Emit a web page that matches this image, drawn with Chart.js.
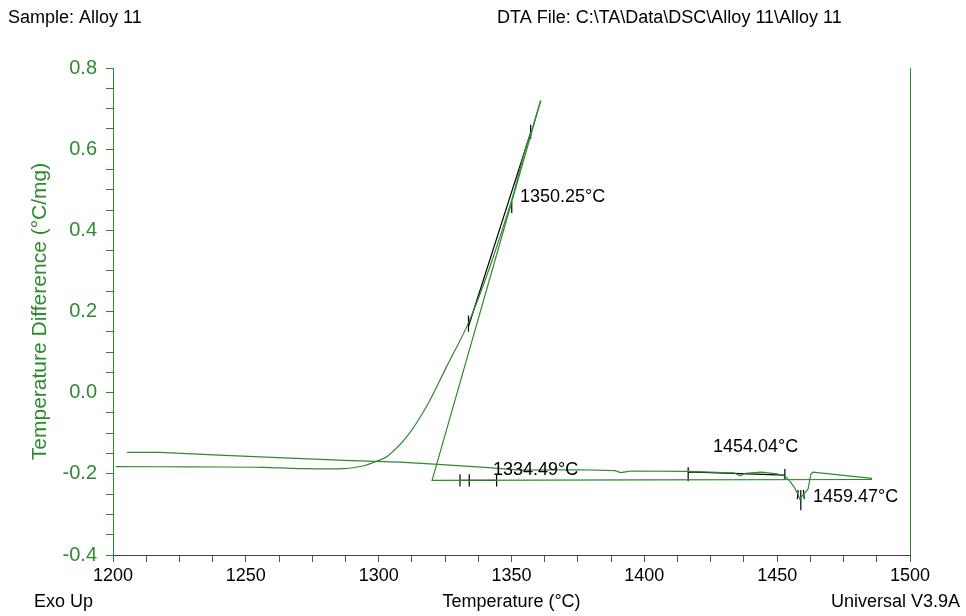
<!DOCTYPE html>
<html lang="en">
<head>
<meta charset="UTF-8">
<title>DTA - Alloy 11</title>
<script src="https://cdn.jsdelivr.net/npm/chart.js"></script>
<style>
  html, body { margin: 0; padding: 0; background: #fff; }
  #wrap { width: 966px; height: 616px; }
</style>
</head>
<body>
<div id="wrap"><canvas id="dta" width="966" height="616"></canvas></div>
<script>
// heating run (upper trace) - temperature in °C, signal in °C/mg
var heatT  = [1205.3, 1217.7, 1240, 1262, 1287, 1308, 1320.8, 1340, 1353.6, 1376, 1389, 1391, 1393, 1395,
              1416.5, 1430, 1434, 1436, 1438, 1444, 1450, 1453, 1455, 1456.3, 1457.8, 1458.5, 1460,
              1461.6, 1462.7, 1463.4, 1485.7];
var heatDT = [-0.147, -0.147, -0.154, -0.160, -0.167, -0.171, -0.176, -0.184, -0.191, -0.190, -0.192, -0.197, -0.195, -0.193,
              -0.194, -0.197, -0.198, -0.205, -0.199, -0.196, -0.200, -0.206, -0.220, -0.232, -0.250, -0.262, -0.250,
              -0.238, -0.201, -0.196, -0.211];

// cooling run: baseline back down and the recalescence jump
var coolT  = [1485.7, 1400, 1320.1, 1361.0];
var coolDT = [-0.214, -0.215, -0.216, 0.720];

// cooling run after the peak: decay back to the baseline
var decayT  = [1361.0, 1358, 1355, 1350.1, 1341.9, 1333.8, 1325.7, 1318.1, 1310.9,
               1303.4, 1298, 1294.5, 1287, 1270, 1256.5, 1230, 1201];
var decayDT = [0.720, 0.655, 0.595, 0.475, 0.311, 0.172, 0.066, -0.033, -0.106,
               -0.156, -0.172, -0.180, -0.187, -0.187, -0.184, -0.183, -0.182];

// analysis marks (black), segments split by null
var markT  = [1333.8, 1357.5, null, 1333.8, 1333.8, null, 1350.1, 1350.1, null, 1357.2, 1357.2, null,
              1330.6, 1344.4, null, 1330.6, 1330.6, null, 1334.1, 1334.1, null, 1344.4, 1344.4, null,
              1416.5, 1452.9, null, 1416.5, 1416.5, null, 1452.9, 1452.9, null,
              1458.9, 1458.9, null, 1457.6, 1457.9, null, 1460.2, 1459.9];
var markDT = [0.163, 0.647, null, 0.150, 0.190, null, 0.443, 0.470, null, 0.625, 0.660, null,
              -0.216, -0.216, null, -0.231, -0.201, null, -0.231, -0.201, null, -0.231, -0.201, null,
              -0.195, -0.203, null, -0.218, -0.184, null, -0.213, -0.188, null,
              -0.290, -0.240, null, -0.262, -0.240, null, -0.262, -0.240];

// annotation labels
var labelText = ['1350.25°C', '1334.49°C', '1454.04°C', '1459.47°C'];
var labelT    = [1353.2, 1343.0, 1425.8, 1463.5];
var labelDT   = [0.482, -0.191, -0.134, -0.257];

// tick labels
var xMajor = [1200, 1250, 1300, 1350, 1400, 1450, 1500];
var yMajor = ['-0.4', '-0.2', '0.0', '0.2', '0.4', '0.6', '0.8'];

var GREEN = '#2f8a2f';
var FONT = 'Liberation Sans, Arial, sans-serif';

function pts(ts, vs) {
    return ts.map(function (t, i) {
        return { x: t === null ? ts[i - 1] : t, y: vs[i] };
    });
}

var textPlugin = {
    id: 'dtaText',
    afterDraw: function (chart) {
        var ctx = chart.ctx, a = chart.chartArea;
        var xs = chart.scales.x, ys = chart.scales.y;
        ctx.save();
        // right frame
        ctx.strokeStyle = GREEN;
        ctx.lineWidth = 1;
        ctx.beginPath();
        ctx.moveTo(a.right + 0.5, a.top);
        ctx.lineTo(a.right + 0.5, a.bottom);
        ctx.stroke();

        ctx.fillStyle = '#000';
        ctx.font = '18px ' + FONT;
        ctx.textBaseline = 'middle';
        ctx.textAlign = 'left';
        ctx.fillText('Sample: Alloy 11', 8, 18);
        ctx.fillText('DTA File: C:\\TA\\Data\\DSC\\Alloy 11\\Alloy 11', 497, 18);
        ctx.fillText('Exo Up', 34, 602);
        ctx.textAlign = 'right';
        ctx.fillText('Universal V3.9A', 960, 602);

        ctx.textAlign = 'left';
        for (var i = 0; i < labelText.length; i++) {
            ctx.fillText(labelText[i], xs.getPixelForValue(labelT[i]), ys.getPixelForValue(labelDT[i]));
        }
        ctx.restore();
    }
};

new Chart(document.getElementById('dta'), {
    type: 'line',
    data: {
        datasets: [
            { label: 'heating', data: pts(heatT, heatDT), borderColor: GREEN, borderWidth: 1.2, pointRadius: 0, tension: 0 },
            { label: 'cooling', data: pts(coolT, coolDT), borderColor: GREEN, borderWidth: 1.2, pointRadius: 0, tension: 0 },
            { label: 'decay', data: pts(decayT, decayDT), borderColor: GREEN, borderWidth: 1.2, pointRadius: 0, tension: 0.35 },
            { label: 'marks', data: pts(markT, markDT), borderColor: '#000', borderWidth: 1.2, pointRadius: 0, tension: 0, spanGaps: false }
        ]
    },
    plugins: [textPlugin],
    options: {
        responsive: false,
        animation: false,
        layout: { padding: { left: 0, top: 68, right: 56, bottom: 0 } },
        plugins: { legend: { display: false }, tooltip: { enabled: false } },
        scales: {
            x: {
                type: 'linear',
                min: 1200, max: 1500,
                ticks: {
                    stepSize: 12.5, autoSkip: false, maxRotation: 0, color: '#000', padding: 3,
                    font: { family: FONT, size: 18 },
                    callback: function (v) { return xMajor.indexOf(v) >= 0 ? String(v) : ''; }
                },
                grid: { drawOnChartArea: false, drawTicks: true, tickLength: 7, color: '#555' },
                border: { color: '#444', width: 1 },
                title: { display: true, text: 'Temperature (°C)', color: '#000', font: { family: FONT, size: 18 }, padding: { top: 0, bottom: 3 } },
                afterFit: function (s) { s.height = 61; }
            },
            y: {
                min: -0.4, max: 0.8,
                ticks: {
                    stepSize: 0.05, autoSkip: false, color: GREEN, padding: 9,
                    font: { family: FONT, size: 20 },
                    callback: function (v) {
                        var s = (Math.round(v * 20) / 20).toFixed(1);
                        if (s === '-0.0') s = '0.0';
                        return (Math.round(v * 20) % 4 === 0 && yMajor.indexOf(s) >= 0) ? s : '';
                    }
                },
                grid: { drawOnChartArea: false, drawTicks: true, tickLength: 7, color: GREEN },
                border: { color: GREEN, width: 1 },
                title: { display: true, text: 'Temperature Difference (°C/mg)', color: GREEN, font: { family: FONT, size: 21 }, padding: { top: 28, bottom: 0 } },
                afterFit: function (s) { s.width = 113; }
            }
        }
    }
});
</script>
</body>
</html>
